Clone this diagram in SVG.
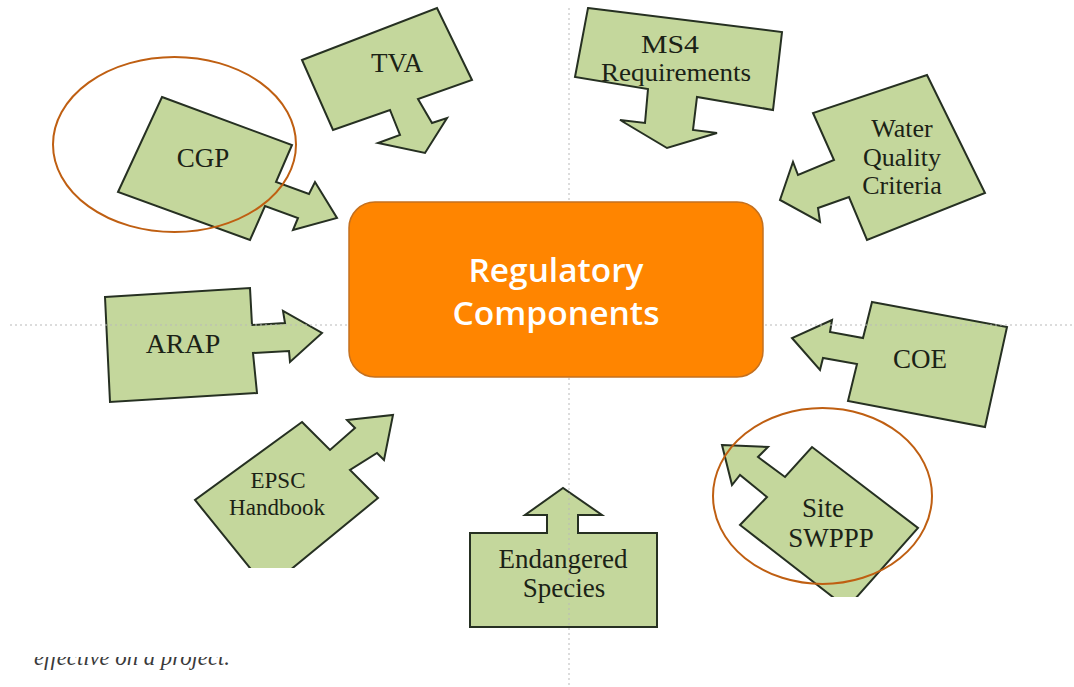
<svg xmlns="http://www.w3.org/2000/svg" width="1074" height="687" viewBox="0 0 1074 687">
<style>
.g{fill:#c4d79c;stroke:#263022;stroke-width:2;stroke-linejoin:miter}
.t{font-family:"Liberation Serif","Times New Roman",serif;font-size:27px;fill:#1b2216;text-anchor:middle}
.ring{fill:none;stroke:#bf5f12;stroke-width:2}
.guide{stroke:#b9b9b9;stroke-width:1;stroke-dasharray:2 3;fill:none}
.c{font-family:"Open Sans","DejaVu Sans",sans-serif;font-size:32px;font-weight:600;fill:#ffffff;text-anchor:middle}
</style>
<defs>
<clipPath id="clipL"><rect x="0" y="0" width="1074" height="568"/></clipPath>
<clipPath id="clipR"><rect x="0" y="0" width="1074" height="597"/></clipPath>
<clipPath id="clipTxt"><rect x="0" y="657" width="1074" height="30"/></clipPath>
</defs>
<rect width="1074" height="687" fill="#ffffff"/>

<g id="tva">
<polygon class="g" points="302,60 437,8 472,80 418,99 432,123 447,118 425,153 378,143 400,135 390,110 333,130"/>
<text class="t" x="397" y="72">TVA</text>
</g>
<g id="cgp">
<polygon class="g" points="162,97 292,145 276,182 309,194 315,182 337,218 293,230 298,218 265,206 250,240 118,192"/>
<text class="t" x="203" y="167">CGP</text>
</g>
<g id="ms4">
<polygon class="g" points="588,8 782,32 773,110 697,97 693,130 717,133 667,148 620,120 645,123 648,89 575,77"/>
<text class="t" x="670" y="53" style="font-size:25px" textLength="58" lengthAdjust="spacingAndGlyphs">MS4</text>
<text class="t" x="676" y="81" style="font-size:25px" textLength="150" lengthAdjust="spacingAndGlyphs">Requirements</text>
</g>
<g id="wqc">
<polygon class="g" points="927,75 985,193 867,240 849,197 818,208 820,222 780,200 793,162 798,175 834,160 813,113"/>
<text class="t" x="902" y="137" style="font-size:26px">Water</text>
<text class="t" x="902" y="166" style="font-size:26px">Quality</text>
<text class="t" x="902" y="194" style="font-size:26px">Criteria</text>
</g>
<g id="arap">
<polygon class="g" points="105,297 250,288 252,325 285,323 283,311 322,333 290,362 289,351 253,353 257,393 110,402"/>
<text class="t" x="183" y="353" style="font-size:28px">ARAP</text>
</g>
<g id="coe">
<polygon class="g" points="872,302 1007,327 985,427 848,401 857,364 823,358 820,370 792,338 832,320 830,332 863,338"/>
<text class="t" x="920" y="368">COE</text>
</g>
<g id="epsc">
<polygon class="g" clip-path="url(#clipL)" points="302,422 330,450 355,428 347,420 393,415 384,460 377,453 350,470 378,498 267,589 195,500"/>
<text class="t" x="278" y="488" style="font-size:23px">EPSC</text>
<text class="t" x="277" y="515" style="font-size:23px">Handbook</text>
</g>
<g id="swppp">
<polygon class="g" clip-path="url(#clipR)" points="722,445 768,447 758,457 785,477 812,447 918,528 847,608 740,525 767,497 740,475 732,485"/>
<text class="t" x="823" y="517">Site</text>
<text class="t" x="831" y="547">SWPPP</text>
</g>
<g id="endangered">
<polygon class="g" points="470,533 547,533 547,515 525,515 563,488 602,515 578,515 578,533 657,533 657,627 470,627"/>
<text class="t" x="563" y="568">Endangered</text>
<text class="t" x="564" y="597">Species</text>
</g>

<g id="connectors">
<line class="guide" x1="10" y1="325" x2="1074" y2="325"/>
<line class="guide" x1="569" y1="8" x2="569" y2="687"/>
</g>

<g id="center">
<rect x="349" y="202" width="414" height="175" rx="26" ry="26" fill="#ff8500" stroke="#c4701f" stroke-width="1.5"/>
<text class="c" x="556" y="282" textLength="175" lengthAdjust="spacingAndGlyphs">Regulatory</text>
<text class="c" x="556" y="325" textLength="207" lengthAdjust="spacingAndGlyphs">Components</text>
</g>

<g id="highlights">
<ellipse class="ring" cx="174.5" cy="144.5" rx="121.5" ry="87.5"/>
<ellipse class="ring" cx="822.5" cy="496" rx="109.5" ry="88"/>
</g>

<g id="caption" clip-path="url(#clipTxt)">
<text x="34" y="665" textLength="196" lengthAdjust="spacingAndGlyphs" style="font-family:'Liberation Serif','Times New Roman',serif;font-style:italic;font-size:23px;fill:#3a3a3a">effective on a project.</text>
</g>
</svg>
